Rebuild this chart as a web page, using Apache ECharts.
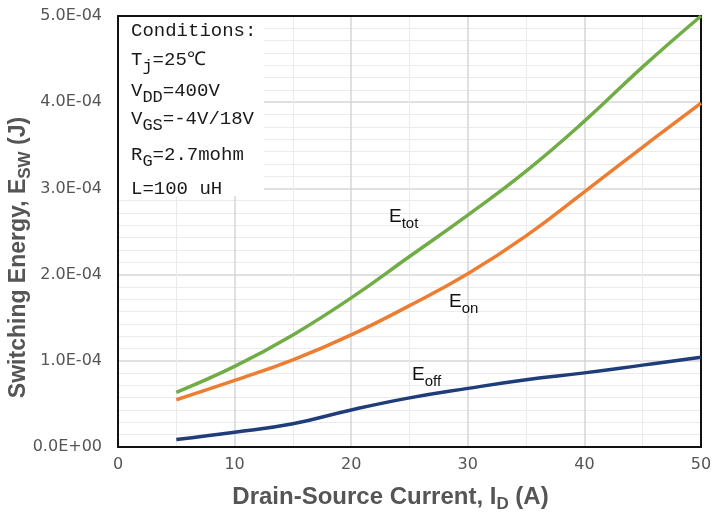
<!DOCTYPE html>
<html>
<head>
<meta charset="utf-8">
<script src="https://cdn.jsdelivr.net/npm/echarts@6/dist/echarts.min.js"></script>
<style>html,body{margin:0;padding:0;background:#fff}#c{width:714px;height:515px}</style>
</head>
<body>
<div id="c"></div>
<script>
// Drain-source current (A)
const currents = [5, 10, 15, 20, 25, 30, 35, 40, 45, 50];
// Switching energies (J)
const eTot = [0.635e-4, 0.935e-4, 1.30e-4, 1.73e-4, 2.21e-4, 2.69e-4, 3.20e-4, 3.78e-4, 4.41e-4, 5.00e-4];
const eOn  = [0.548e-4, 0.772e-4, 1.01e-4, 1.30e-4, 1.64e-4, 2.01e-4, 2.45e-4, 2.96e-4, 3.48e-4, 3.99e-4];
const eOff = [0.087e-4, 0.172e-4, 0.27e-4, 0.43e-4, 0.57e-4, 0.68e-4, 0.78e-4, 0.86e-4, 0.95e-4, 1.04e-4];
const yTickLabels = ['0.0E+00', '1.0E-04', '2.0E-04', '3.0E-04', '4.0E-04', '5.0E-04'];
const conditionLines = [
  'Conditions:',
  'T{s|j}=25℃',
  'V{s|DD}=400V',
  'V{s|GS}=-4V/18V',
  'R{s|G}=2.7mohm',
  'L=100 uH'
];

const chart = echarts.init(document.getElementById('c'));
const gray = '#555555';
const tickFont = {fontFamily: 'DejaVu Sans', fontSize: 16, color: gray};
const subAxis = {fontFamily: 'Liberation Sans', fontWeight: 'bold', fontSize: 17, color: gray, padding: [14, 0, 0, 0]};

function pairs(vals) { return currents.map((x, i) => [x, vals[i]]); }

const condY = [31, 60, 91, 119, 155, 189];
const condGraphics = conditionLines.map((t, i) => ({
  type: 'text', x: 131, y: condY[i], z: 20,
  style: {
    text: t, fill: '#1a1a1a', fontFamily: 'Liberation Mono', fontSize: 19,
    verticalAlign: 'middle', align: 'left',
    rich: {s: {fontFamily: 'Liberation Mono', fontSize: 17, fill: '#1a1a1a', padding: [12, 0, 0, 0]}}
  }
}));

function label(x, y, sub) {
  return {
    type: 'text', x: x, y: y, z: 20,
    style: {
      text: '{e|E}{s|' + sub + '}', verticalAlign: 'middle', align: 'left',
      rich: {
        e: {fontFamily: 'Liberation Sans', fontSize: 19, fill: '#111'},
        s: {fontFamily: 'Liberation Sans', fontSize: 15, fill: '#111', padding: [14, 0, 0, 0]}
      }
    }
  };
}

const lineCommon = {type: 'line', smooth: 0.45, showSymbol: false};

const option = {
  animation: false,
  grid: {left: 118, right: 13, top: 16, bottom: 68, outerBoundsMode: 'none', containLabel: false},
  xAxis: [{
    type: 'value', min: 0, max: 50, interval: 10,
    axisLine: {show: true, onZero: false, lineStyle: {color: '#111', width: 2}},
    axisTick: {show: false},
    axisLabel: Object.assign({margin: 10}, tickFont),
    splitLine: {show: true, lineStyle: {color: '#d6d6d6', width: 1.5}},
    minorTick: {show: false, splitNumber: 2},
    minorSplitLine: {show: true, lineStyle: {color: '#ebebeb', width: 1}},
    name: 'Drain-Source Current, I{sub|D} (A)',
    nameLocation: 'middle', nameGap: 35, nameMoveOverlap: false,
    nameTextStyle: {fontFamily: 'Liberation Sans', fontWeight: 'bold', fontSize: 24, color: gray,
      padding: [0, 38, 0, 0], rich: {sub: subAxis}}
  }, {
    type: 'value', position: 'top', min: 0, max: 50, interval: 10,
    axisLine: {show: true, onZero: false, lineStyle: {color: '#111', width: 2}},
    axisTick: {show: false}, axisLabel: {show: false}, splitLine: {show: false}
  }],
  yAxis: [{
    type: 'value', min: 0, max: 5e-4, interval: 1e-4,
    axisLine: {show: true, onZero: false, lineStyle: {color: '#111', width: 2}},
    axisTick: {show: false},
    axisLabel: Object.assign({margin: 16, formatter: v => yTickLabels[Math.round(v / 1e-4)]}, tickFont),
    splitLine: {show: true, lineStyle: {color: '#d6d6d6', width: 1.5}},
    minorTick: {show: false, splitNumber: 7},
    minorSplitLine: {show: true, lineStyle: {color: '#ebebeb', width: 1}},
    name: 'Switching Energy, E{sub|SW} (J)',
    nameLocation: 'middle', nameGap: 84, nameRotate: 90, nameMoveOverlap: false,
    nameTextStyle: {fontFamily: 'Liberation Sans', fontWeight: 'bold', fontSize: 23, color: gray,
      padding: [0, 52, 0, 0], rich: {sub: subAxis}}
  }, {
    type: 'value', position: 'right', min: 0, max: 5e-4, interval: 1e-4,
    axisLine: {show: true, onZero: false, lineStyle: {color: '#111', width: 2}},
    axisTick: {show: false}, axisLabel: {show: false}, splitLine: {show: false}
  }],
  series: [
    Object.assign({name: 'Etot', data: pairs(eTot),
      lineStyle: {color: '#70AD47', width: 3.5}, itemStyle: {color: '#70AD47'}}, lineCommon),
    Object.assign({name: 'Eon', data: pairs(eOn),
      lineStyle: {color: '#ED7D31', width: 3.5}, itemStyle: {color: '#ED7D31'}}, lineCommon),
    Object.assign({name: 'Eoff', data: pairs(eOff),
      lineStyle: {color: '#1F3D7A', width: 3.5}, itemStyle: {color: '#1F3D7A'}}, lineCommon)
  ],
  graphic: [
    {type: 'rect', z: 10, shape: {x: 119, y: 17, width: 145, height: 179}, style: {fill: '#fff'}},
    ...condGraphics,
    label(389, 217, 'tot'),
    label(449, 302, 'on'),
    label(412, 375, 'off')
  ]
};
chart.setOption(option);
</script>
</body>
</html>
